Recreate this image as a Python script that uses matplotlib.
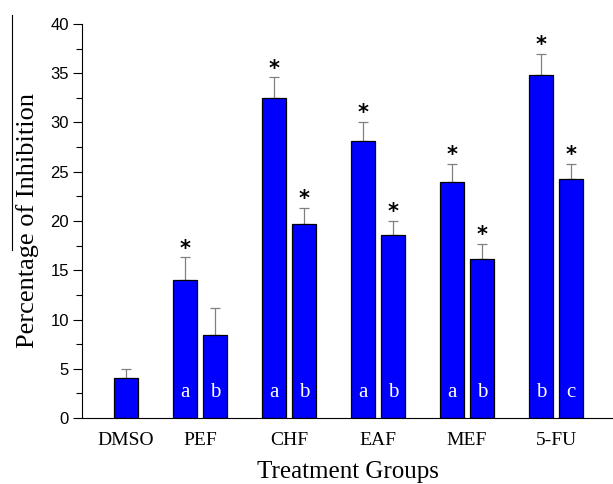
import matplotlib
matplotlib.use("Agg")
import matplotlib.pyplot as plt
from matplotlib.lines import Line2D
import numpy as np

# data
groups = ["DMSO", "PEF", "CHF", "EAF", "MEF", "5-FU"]
first_vals = [None, 14.0, 32.45, 28.1, 24.0, 34.85]
first_err = [None, 2.3, 2.15, 2.0, 1.8, 2.15]
first_letter = [None, "a", "a", "a", "a", "b"]
first_star = [False, True, True, True, True, True]
second_vals = [4.1, 8.45, 19.66, 18.6, 16.15, 24.26]
second_err = [0.9, 2.75, 1.65, 1.4, 1.55, 1.55]
second_letter = [None, "b", "b", "b", "b", "c"]
second_star = [False, False, True, True, True, True]

bar_color = "#0000ff"
err_color = "#808080"
w = 0.27
off = 0.169

fig = plt.figure(figsize=(6.13, 4.84), dpi=100)
ax = fig.add_axes([82 / 613, 66 / 484, 1 - 82 / 613, 394 / 484])

x = np.arange(len(groups))


def draw(pos, val, err, letter, star):
    ax.bar(pos, val, width=w, color=bar_color, edgecolor="black", linewidth=0.9, zorder=2)
    ax.errorbar(pos, val, yerr=[[0], [err]], fmt="none", ecolor=err_color,
                elinewidth=0.9, capsize=3.5, capthick=0.9, zorder=1)
    if letter:
        ax.text(pos, 2.6, letter, color="white", ha="center", va="center",
                family="Liberation Serif", fontsize=15, zorder=3)
    if star:
        ax.annotate("*", (pos, val + err), xytext=(0, -1), textcoords="offset points",
                    ha="center", va="bottom", fontsize=15, fontweight="bold",
                    family="DejaVu Sans")


for i in range(len(groups)):
    if first_vals[i] is not None:
        draw(x[i] - off, first_vals[i], first_err[i], first_letter[i], first_star[i])
    draw(x[i] + off, second_vals[i], second_err[i], second_letter[i], second_star[i])

ax.set_xlim(-0.326, 5.64)
ax.set_ylim(0, 40)
ax.set_yticks(np.arange(0, 41, 5))
ax.set_yticks(np.arange(2.5, 40, 5), minor=True)
ax.tick_params(axis="y", which="major", length=6.5, width=0.8, labelsize=12, pad=3)
ax.tick_params(axis="y", which="minor", length=4, width=0.8)
for lab in ax.get_yticklabels():
    lab.set_family("Liberation Sans")

tick_pos = [x[0] + off] + list(x[1:])
ax.set_xticks(tick_pos)
ax.set_xticklabels(groups, family="Liberation Serif", fontsize=14)
ax.tick_params(axis="x", length=0, pad=10)

ax.spines["top"].set_visible(False)
ax.spines["right"].set_visible(False)
ax.spines["left"].set_linewidth(0.8)
ax.spines["bottom"].set_linewidth(0.8)

ax.set_xlabel("Treatment Groups", family="Liberation Serif", fontsize=18, labelpad=9)
ax.set_ylabel("Percentage of Inhibition", family="Liberation Serif", fontsize=19, labelpad=8)

# stray line above the y label
fig.add_artist(Line2D([12 / 613, 12 / 613], [1 - 15 / 484, 1 - 250 / 484],
                      color="black", linewidth=0.8))

fig.savefig("out.png", dpi=100)
